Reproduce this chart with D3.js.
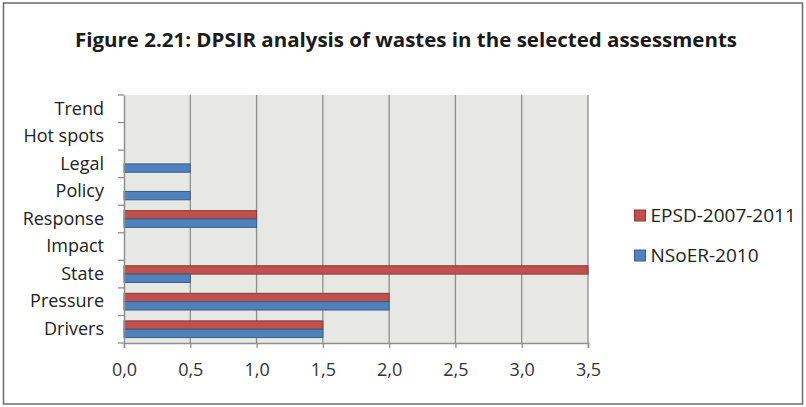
<!DOCTYPE html>
<html><head><meta charset="utf-8">
<script src="https://cdn.jsdelivr.net/npm/d3@7"></script>
<style>body{margin:0;background:#fff;}svg{display:block;}</style>
</head><body><svg id="c" width="806" height="407"></svg>
<script>
const categories = ["Drivers","Pressure","State","Impact","Response","Policy","Legal","Hot spots","Trend"];
const seriesNames = ["EPSD-2007-2011","NSoER-2010"];
const epsd = [1.5, 2, 3.5, 0, 1, 0, 0, 0, 0];
const nsoer = [1.5, 2, 0.5, 0, 1, 0.5, 0.5, 0, 0];
const xTicks = [0,0.5,1,1.5,2,2.5,3,3.5];
const colors = ["#c0504d","#4f81bd"];
const strokes = ["#8c3836","#385d8a"];

const svg = d3.select("#c");
const font = "'Open Sans', sans-serif";
// frame
svg.append("rect").attr("x",3.5).attr("y",3).attr("width",799).attr("height",401)
  .attr("fill","#fff").attr("stroke","#6a6a6a").attr("stroke-width",1.5);

svg.append("text").attr("x",406).attr("y",47).attr("text-anchor","middle")
  .attr("font-family",font).attr("font-weight","bold").attr("font-size",20)
  .attr("fill","#1a1a1a").attr("textLength",662).attr("lengthAdjust","spacingAndGlyphs")
  .text("Figure 2.21: DPSIR analysis of wastes in the selected assessments");

const L=124, R=588, T=95, B=343;
const x = d3.scaleLinear().domain([0,3.5]).range([L,R]);
const y = d3.scaleBand().domain(categories.slice().reverse()).range([T,B]);
const inner = d3.scaleBand().domain(seriesNames).range([0,y.bandwidth()]).paddingOuter(0.65).paddingInner(0);

svg.append("rect").attr("x",L).attr("y",T).attr("width",R-L).attr("height",B-T).attr("fill","#e7e7e4");

const g = svg.append("g");
g.selectAll("line.grid").data(xTicks.slice(1)).join("line")
  .attr("x1",d=>x(d)).attr("x2",d=>x(d)).attr("y1",T).attr("y2",B)
  .attr("stroke","#8f8f8f").attr("stroke-width",1.3);

const series = [epsd, nsoer];
series.forEach((vals,si)=>{
  g.selectAll("rect.s"+si).data(categories.map((c,i)=>({c,v:vals[i]})).filter(d=>d.v>0)).join("rect")
    .attr("x",x(0)).attr("y",d=>y(d.c)+inner(seriesNames[si]))
    .attr("width",d=>x(d.v)-x(0)).attr("height",inner.bandwidth())
    .attr("fill",colors[si]).attr("stroke",strokes[si]).attr("stroke-width",1);
});

// x axis
const xa = svg.append("g").attr("transform",`translate(0,${B})`)
  .call(d3.axisBottom(x).tickValues(xTicks).tickSize(5).tickPadding(15)
    .tickFormat(d=>d3.format(".1f")(d).replace(".",",")));
xa.select(".domain").attr("stroke","#8f8f8f").attr("stroke-width",1.5);
xa.selectAll(".tick line").attr("stroke","#8f8f8f").attr("stroke-width",1.3);
xa.selectAll("text").attr("font-family",font).attr("font-size",18).attr("fill","#333");

// y axis
const ya = svg.append("g").attr("transform",`translate(${L},0)`)
  .call(d3.axisLeft(y).tickSize(0).tickPadding(20));
ya.select(".domain").attr("stroke","#8f8f8f").attr("stroke-width",1.5);
ya.selectAll("text").attr("font-family",font).attr("font-size",18).attr("fill","#222");
// boundary ticks
const bounds = categories.map(c=>y(c)).concat([B]);
ya.selectAll("line.bt").data(bounds).join("line").attr("class","bt")
  .attr("x1",-6).attr("x2",0).attr("y1",d=>d).attr("y2",d=>d)
  .attr("stroke","#8f8f8f").attr("stroke-width",1.3);

// legend
const lg = svg.append("g");
seriesNames.forEach((n,i)=>{
  const yy = 215.5 + i*40;
  lg.append("rect").attr("x",634.5).attr("y",yy-5.5).attr("width",11).attr("height",11)
    .attr("fill",colors[i]).attr("stroke",strokes[i]);
  lg.append("text").attr("x",650.5).attr("y",yy).attr("dy","0.35em")
    .attr("font-family",font).attr("font-size",19).attr("fill","#222").text(n);
});
</script></body></html>
